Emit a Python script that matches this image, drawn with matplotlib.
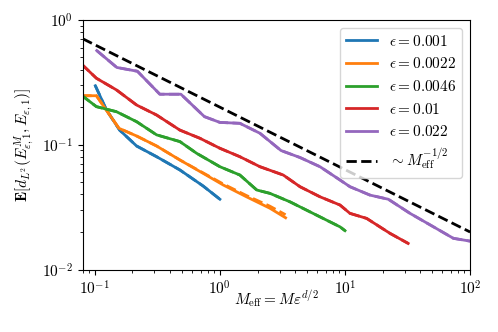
import matplotlib
matplotlib.use("Agg")
import matplotlib.pyplot as plt

plt.rcParams['font.family'] = 'serif'
plt.rcParams['font.serif'] = ['cmr10']
plt.rcParams['mathtext.fontset'] = 'cm'
plt.rcParams['axes.formatter.use_mathtext'] = True
plt.rcParams['font.size'] = 11

# values
eps_labels = ["0.001", "0.0022", "0.0046", "0.01", "0.022"]
colors = ['#1f77b4', '#ff7f0e', '#2ca02c', '#d62728', '#9467bd']

x_001 = [0.101, 0.124, 0.158, 0.216, 0.312, 0.479, 0.735, 1.0]
y_001 = [0.297, 0.190, 0.131, 0.0977, 0.0802, 0.0628, 0.0467, 0.0366]

x_0022 = [0.078, 0.103, 0.156, 0.216, 0.312, 0.479, 0.735, 1.063, 1.63, 2.51, 3.35]
y_0022 = [0.247, 0.247, 0.1355, 0.1175, 0.0977, 0.0755, 0.059, 0.0476, 0.0383, 0.031, 0.026]
y_0022_dash = [0.247, 0.247, 0.1355, 0.1175, 0.0977, 0.0755, 0.0595, 0.0485, 0.0392, 0.0322, 0.0275]

x_0046 = [0.078, 0.103, 0.149, 0.216, 0.312, 0.479, 0.652, 1.0, 1.445, 1.97, 2.51, 3.63, 5.25, 9.12, 10.0]
y_0046 = [0.250, 0.202, 0.184, 0.153, 0.120, 0.106, 0.0854, 0.0667, 0.0572, 0.0434, 0.0408, 0.0349, 0.0290, 0.0220, 0.0205]

x_01 = [0.078, 0.103, 0.149, 0.216, 0.312, 0.479, 0.692, 1.0, 1.445, 2.09, 3.21, 4.37, 6.31, 9.12,
        10.96, 14.9, 22.9, 32.0]
y_01 = [0.445, 0.341, 0.275, 0.208, 0.173, 0.131, 0.1127, 0.0937, 0.0802, 0.0667, 0.0572, 0.0461,
        0.0383, 0.0329, 0.0282, 0.0257, 0.0195, 0.0162]

x_022 = [0.1037, 0.150, 0.219, 0.331, 0.488, 0.752, 1.0, 1.445, 2.09, 3.08, 4.37, 6.31, 9.12,
         10.96, 15.85, 22.2, 33.1, 47.9, 73.5, 100.0]
y_022 = [0.568, 0.416, 0.388, 0.254, 0.254, 0.168, 0.151, 0.1485, 0.1236, 0.0899, 0.079, 0.0667,
         0.0522, 0.0461, 0.0395, 0.0366, 0.0282, 0.0228, 0.0178, 0.0169]

ref_x = [0.08, 100.0]
ref_y = [0.707, 0.020]

xs = [x_001, x_0022, x_0046, x_01, x_022]
ys = [y_001, y_0022, y_0046, y_01, y_022]
ys_dash = [y_001, y_0022_dash, y_0046, y_01, y_022]

fig = plt.figure(figsize=(4.98, 3.32), dpi=100)
ax = fig.add_axes([0.166, 0.188, 0.778, 0.752])

for x, y, yd, c, lab in zip(xs, ys, ys_dash, colors, eps_labels):
    ax.plot(x, y, color=c, lw=2, label=rf"$\epsilon = {lab}$")
    ax.plot(x, yd, color=c, lw=2, ls='--')

ax.plot(ref_x, ref_y, 'k--', lw=2, label=r"$\sim M_{\rm eff}^{-1/2}$")

ax.set_xscale('log')
ax.set_yscale('log')
ax.set_xlim(0.08, 100)
ax.set_ylim(1e-2, 1)
ax.set_xlabel(r"$M_{\rm eff} = M\varepsilon^{d/2}$", labelpad=-6)
ax.set_ylabel(r"$\mathbf{E}[d_{L^2}(E^M_{\varepsilon,1}, E_{\varepsilon,1})]$")
ax.legend(loc='upper right', fontsize=11)

fig.savefig("out.png", dpi=100)
